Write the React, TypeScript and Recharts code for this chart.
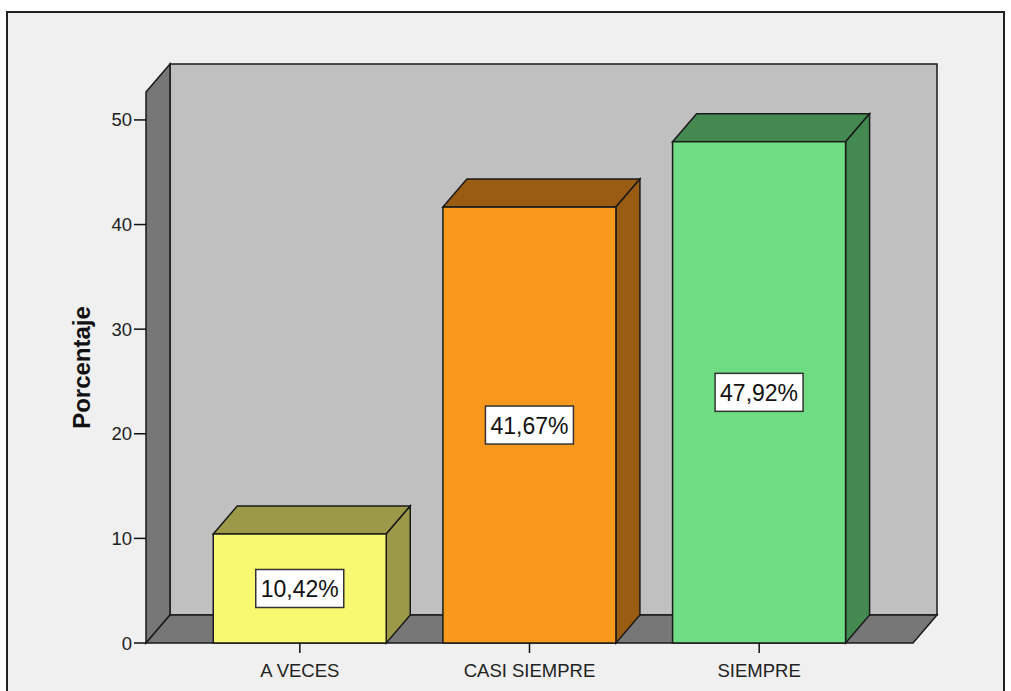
import React from "react";
import { Bar, BarChart, LabelList, ReferenceArea, XAxis, YAxis } from "recharts";

const categories = ["A VECES", "CASI SIEMPRE", "SIEMPRE"];
const percentages = [10.42, 41.67, 47.92];
const percentLabels = ["10,42%", "41,67%", "47,92%"];
const yTicks = [0, 10, 20, 30, 40, 50];
const yMax = 52.67;

const frontColors = ["#F9F871", "#F8991E", "#70DC84"];
const sideColors = ["#9C9A48", "#9A5C12", "#448A50"];

// depth of the fake 3D look
const DX = 24;
const DY = -28;
const EDGE = "#1a1a1a";

const data = categories.map((name, i) => ({
  name,
  value: percentages[i],
  label: percentLabels[i],
}));

function Walls(props: any) {
  const { x, y, width: w, height: h } = props;
  const b = y + h;
  return (
    <g>
      <rect x={x + DX} y={y + DY} width={w} height={h} fill="#C0C0C0" stroke={EDGE} strokeWidth={1.5} />
      <polygon
        points={`${x},${y} ${x + DX},${y + DY} ${x + DX},${b + DY} ${x},${b}`}
        fill="#777777"
        stroke={EDGE}
        strokeWidth={1.5}
      />
      <polygon
        points={`${x},${b} ${x + DX},${b + DY} ${x + w + DX},${b + DY} ${x + w},${b}`}
        fill="#777777"
        stroke={EDGE}
        strokeWidth={1.5}
      />
    </g>
  );
}

function Box3D(props: any) {
  const { x, y, width: w, height: h, payload } = props;
  const i = categories.indexOf(payload?.name);
  const side = sideColors[i];
  return (
    <g>
      <polygon
        points={`${x},${y} ${x + DX},${y + DY} ${x + w + DX},${y + DY} ${x + w},${y}`}
        fill={side}
        stroke={EDGE}
        strokeWidth={1.5}
      />
      <polygon
        points={`${x + w},${y} ${x + w + DX},${y + DY} ${x + w + DX},${y + h + DY} ${x + w},${y + h}`}
        fill={side}
        stroke={EDGE}
        strokeWidth={1.5}
      />
      <rect x={x} y={y} width={w} height={h} fill={frontColors[i]} stroke={EDGE} strokeWidth={1.5} />
    </g>
  );
}

function ValueBox(props: any) {
  const { x, y, width, height, value } = props;
  const cx = x + width / 2;
  const cy = y + height / 2;
  return (
    <g>
      <rect x={cx - 44} y={cy - 19} width={88} height={38} fill="#ffffff" stroke="#333" strokeWidth={1.5} />
      <text x={cx} y={cy + 1} textAnchor="middle" dominantBaseline="central" fontSize={23} fill="#111">
        {value}
      </text>
    </g>
  );
}

function YTitle(props: any) {
  const vb = props.viewBox || { x: 86, y: 92, height: 551 };
  const cx = vb.x - 5;
  const cy = vb.y + vb.height / 2;
  return (
    <text
      x={cx}
      y={cy}
      transform={`rotate(-90, ${cx}, ${cy})`}
      textAnchor="middle"
      dominantBaseline="central"
      fontSize={24}
      fontWeight="bold"
      fill="#111"
    >
      Porcentaje
    </text>
  );
}

export default function App() {
  return (
    <div
      style={{
        position: "absolute",
        left: 0,
        top: 0,
        width: 1011,
        height: 691,
        overflow: "hidden",
        background: "#ffffff",
        fontFamily: "'Liberation Sans', Arial, sans-serif",
      }}
    >
      <div
        style={{
          position: "absolute",
          left: 6,
          top: 11,
          width: 999,
          height: 700,
          boxSizing: "border-box",
          border: "2px solid #222",
          background: "#F0F0F0",
        }}
      />
      <div style={{ position: "absolute", left: 0, top: 0 }}>
        <BarChart
          width={1011}
          height={691}
          data={data}
          margin={{ top: 92, right: 98, bottom: 18, left: 86 }}
          barCategoryGap="12.3%"
        >
          <XAxis xAxisId="plane" type="number" domain={[0, 1]} allowDataOverflow hide />
          <XAxis
            dataKey="name"
            height={30}
            padding={{ left: 39, right: 39 }}
            interval={0}
            axisLine={false}
            tickSize={10}
            tickMargin={11}
            tickLine={{ stroke: "#111", strokeWidth: 1.5 }}
            tick={{ fontSize: 18.5, fill: "#222" }}
          />
          <YAxis
            width={60}
            domain={[0, yMax]}
            ticks={yTicks}
            interval={0}
            axisLine={false}
            tickSize={12}
            tickMargin={2}
            tickLine={{ stroke: "#111", strokeWidth: 1.5 }}
            tick={{ fontSize: 18.5, fill: "#222" }}
            label={(p: any) => <YTitle {...p} />}
          />
          <ReferenceArea
            xAxisId="plane"
            y1={0}
            y2={yMax}
            ifOverflow="visible"
            shape={(p: any) => <Walls {...p} />}
          />
          <Bar dataKey="value" shape={(p: any) => <Box3D {...p} />} isAnimationActive={false}>
            <LabelList dataKey="label" content={(p: any) => <ValueBox {...p} />} />
          </Bar>
        </BarChart>
      </div>
    </div>
  );
}
